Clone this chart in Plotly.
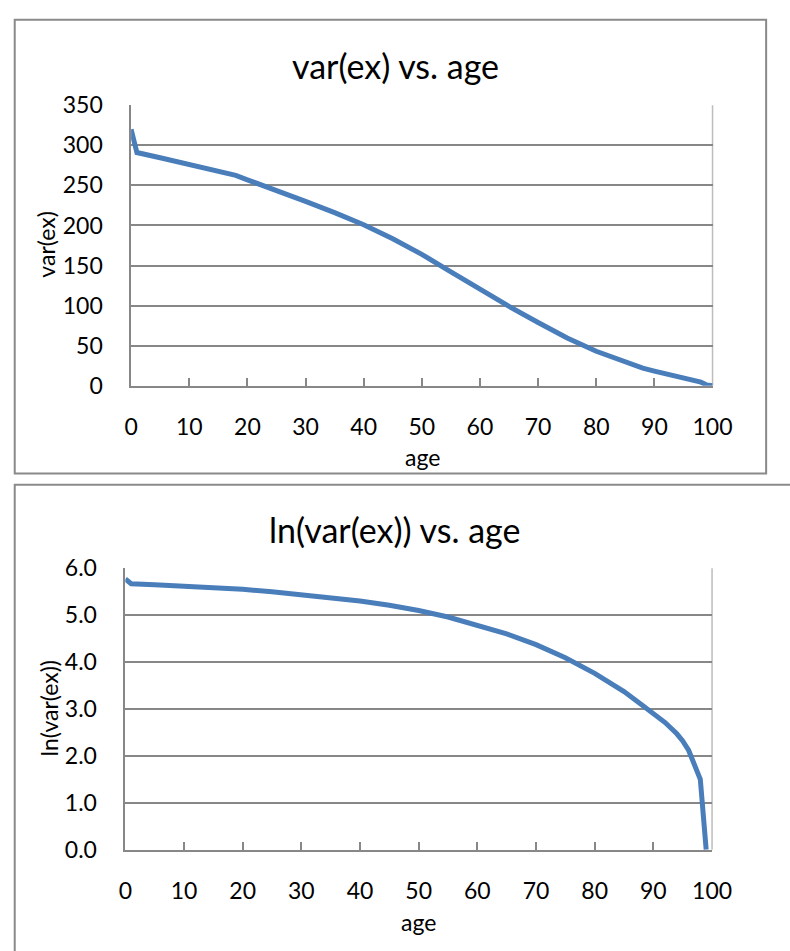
import plotly.graph_objects as go

# ---- data ----
ages = [0, 1, 5, 10, 15, 18, 20, 25, 30, 35, 40, 45, 50, 55, 60, 65, 70, 75, 80, 85,
        88, 90, 92, 94, 95, 96, 97, 98, 99, 100]
var_ex = [320, 291, 284.5, 276.5, 268, 262.5, 257, 244, 230, 216, 201, 183.5, 164, 142,
          120, 99, 79, 59.5, 43, 29, 22, 18.3, 15, 11.8, 10.2, 8.3, 6.2, 4.5, 1, 0]

ln_ages = [0, 1, 5, 10, 15, 18, 20, 25, 30, 35, 40, 45, 50, 55, 60, 65, 70, 75, 80, 85,
           88, 90, 92, 94, 95, 96, 97, 98, 99]
ln_var_ex = [5.77, 5.67, 5.65, 5.62, 5.59, 5.57, 5.55, 5.50, 5.44, 5.38, 5.30, 5.21, 5.10,
             4.96, 4.79, 4.60, 4.37, 4.09, 3.76, 3.37, 3.09, 2.91, 2.71, 2.47, 2.32, 2.12,
             1.82, 1.50, 0.00]

x_ticks = [0, 10, 20, 30, 40, 50, 60, 70, 80, 90, 100]
top_title = "var(ex) vs. age"
bottom_title = "ln(var(ex)) vs. age"

W, H = 790, 951
FONT = "Lato"
BLUE = "#4a7ebb"
GRID = "#878787"
EDGE = "#bdbdbd"


def px(x):
    return x / W


def py(y):
    return 1 - y / H


fig = go.Figure()
fig.add_trace(go.Scatter(x=ages, y=var_ex, mode="lines", line=dict(color=BLUE, width=5),
                         xaxis="x", yaxis="y", showlegend=False, hoverinfo="skip"))
fig.add_trace(go.Scatter(x=ln_ages, y=ln_var_ex, mode="lines", line=dict(color=BLUE, width=5),
                         xaxis="x2", yaxis="y2", showlegend=False, hoverinfo="skip"))

tickfont = dict(family=FONT, size=23, color="black")
xcommon = dict(range=[0, 100], tickvals=x_ticks, ticks="inside", ticklen=8, tickwidth=1.5,
               tickcolor=GRID, showline=True, linecolor=GRID, linewidth=2, showgrid=False,
               zeroline=False, tickfont=tickfont, ticklabelstandoff=20, fixedrange=True)
ycommon = dict(showgrid=True, gridcolor=GRID, gridwidth=1.5, showline=True, linecolor=GRID,
               linewidth=1.5, zeroline=False, ticks="", tickfont=tickfont,
               ticklabelstandoff=22, fixedrange=True)

fig.update_layout(
    width=W, height=H, margin=dict(l=0, r=0, t=0, b=0),
    paper_bgcolor="white", plot_bgcolor="white",
    font=dict(family=FONT, color="black"),
    xaxis=dict(domain=[px(128.5), px(730.5)], anchor="y", **xcommon),
    yaxis=dict(domain=[py(382), py(93)], anchor="x", range=[0, 350], dtick=50, **ycommon),
    xaxis2=dict(domain=[px(122.5), px(730)], anchor="y2", **xcommon),
    yaxis2=dict(domain=[py(860), py(570)], anchor="x2", range=[0, 6], dtick=1,
                tickformat=".1f", **ycommon),
)

annots = [
    dict(text=top_title, x=px(402), y=py(52), font=dict(size=34)),
    dict(text="age", x=px(430), y=py(455), font=dict(size=23)),
    dict(text="var(ex)", x=px(40), y=py(237), textangle=-90, font=dict(size=23)),
    dict(text=bottom_title, x=px(401), y=py(530), font=dict(size=34)),
    dict(text="age", x=px(426), y=py(935), font=dict(size=23)),
    dict(text="ln(var(ex))", x=px(43), y=py(715), textangle=-90, font=dict(size=23)),
]
for a in annots:
    fig.add_annotation(xref="paper", yref="paper", showarrow=False, xanchor="center",
                       yanchor="middle", **a)

shapes = [
    dict(type="rect", xref="paper", yref="paper", x0=px(8), x1=px(786), y0=py(5), y1=py(472.5),
         line=dict(color="#8a8a8a", width=2)),
    dict(type="rect", xref="paper", yref="paper", x0=px(8), x1=px(1100), y0=py(484), y1=py(1200),
         line=dict(color="#8a8a8a", width=2)),
    dict(type="line", xref="x domain", yref="y domain", x0=1, x1=1, y0=0, y1=1,
         line=dict(color=EDGE, width=1.5)),
    dict(type="line", xref="x2 domain", yref="y2 domain", x0=1, x1=1, y0=0, y1=1,
         line=dict(color=EDGE, width=1.5)),
]
for s in shapes:
    fig.add_shape(layer="below", **s)

fig.write_html("out.html",
               post_script="document.body.style.margin='0';document.body.style.overflow='hidden';")
